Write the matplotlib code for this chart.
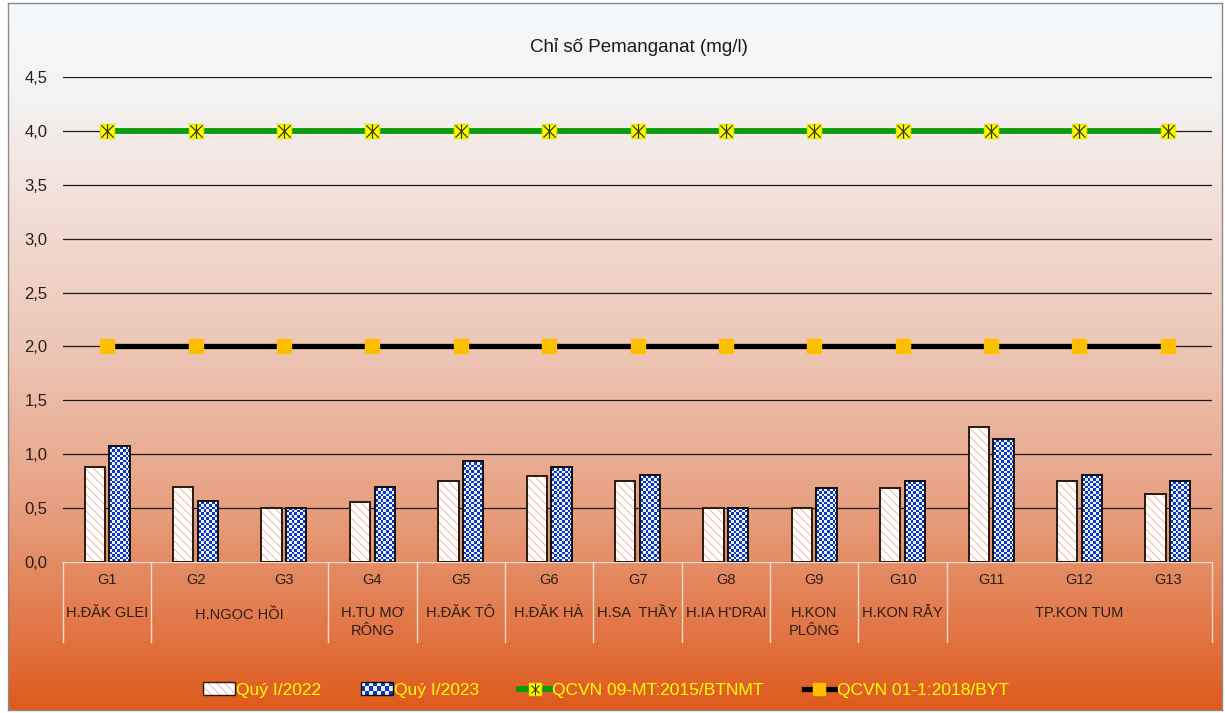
import numpy as np
import matplotlib.pyplot as plt
from matplotlib.colors import LinearSegmentedColormap, ListedColormap
from matplotlib.patches import Rectangle, Patch
from matplotlib.lines import Line2D
from matplotlib.legend_handler import HandlerBase

plt.rcParams['font.family'] = ['Liberation Sans', 'DejaVu Sans']
plt.rcParams['hatch.linewidth'] = 0.6

# sampling sites and districts
sites = ['G1', 'G2', 'G3', 'G4', 'G5', 'G6', 'G7', 'G8', 'G9', 'G10', 'G11', 'G12', 'G13']
districts = ['H.ĐĂK GLEI', 'H.NGỌC HỒI', 'H.TU MƠ\nRÔNG', 'H.ĐĂK TÔ', 'H.ĐĂK HÀ',
             'H.SA  THẦY', "H.IA H'DRAI", 'H.KON\nPLÔNG', 'H.KON RẪY', 'TP.KON TUM']
district_span = [1, 2, 1, 1, 1, 1, 1, 1, 1, 3]

# permanganate index, mg/l
q1_2022 = [0.88, 0.70, 0.50, 0.56, 0.75, 0.80, 0.75, 0.50, 0.50, 0.69, 1.25, 0.75, 0.63]
q1_2023 = [1.08, 0.57, 0.50, 0.70, 0.94, 0.88, 0.81, 0.50, 0.69, 0.75, 1.14, 0.81, 0.75]
qcvn_btnmt = [4.0, 4.0, 4.0, 4.0, 4.0, 4.0, 4.0, 4.0, 4.0, 4.0, 4.0, 4.0, 4.0]
qcvn_byt = [2.0, 2.0, 2.0, 2.0, 2.0, 2.0, 2.0, 2.0, 2.0, 2.0, 2.0, 2.0, 2.0]

yticks = [0.0, 0.5, 1.0, 1.5, 2.0, 2.5, 3.0, 3.5, 4.0, 4.5]

BLUE = '#0A37C8'
LIGHT = '#F0F4FF'
HATCH = '#E9AE98'
TEXT = '#2A1E18'
CREAM = '#F3DCC8'

W, H = 1225, 713
fig = plt.figure(figsize=(W / 100, H / 100), dpi=100)

# gradient background inside the chart frame
bg = fig.add_axes([8 / W, 3 / H, 1214 / W, 707 / H], zorder=-10)
grad = LinearSegmentedColormap.from_list('bg', [
    (0.0, '#F5F8FB'), (0.12, '#F4F4F5'), (0.3, '#F1DDD4'), (0.5, '#EDC4B4'),
    (0.7, '#E7A284'), (0.8, '#E48B63'), (0.9, '#E27343'), (1.0, '#DF5A1C')])
bg.imshow(np.linspace(0, 1, 256).reshape(-1, 1), cmap=grad, aspect='auto', extent=(0, 1, 0, 1))
bg.set_xticks([])
bg.set_yticks([])
for s in bg.spines.values():
    s.set_color('#8A8A8A')
    s.set_linewidth(1)

ax = fig.add_axes([63 / W, 1 - 562 / H, (1212 - 63) / W, (562 - 77) / H])
ax.set_facecolor('none')

x = np.arange(len(sites))
w = 0.23
off = 0.14

# Quý I/2022: white bars with light diagonal hatch
ax.bar(x - off, q1_2022, w, color='white', edgecolor=HATCH, hatch='\\\\\\\\', linewidth=0, zorder=2)
ax.bar(x - off, q1_2022, w, fill=False, edgecolor='#2A1A10', linewidth=1.4, zorder=3)

# Quý I/2023: checkerboard bars
bars23 = ax.bar(x + off, q1_2023, w, color=LIGHT, linewidth=0, zorder=2)
checker = np.indices((186, 442)).sum(axis=0) % 2
for b in bars23:
    im = ax.imshow(checker, cmap=ListedColormap([LIGHT, BLUE]), extent=(-0.5, 12.5, 0, 4.5),
                   aspect='auto', interpolation='nearest', origin='lower', zorder=2.5)
    im.set_clip_path(b)
ax.bar(x + off, q1_2023, w, fill=False, edgecolor='#101010', linewidth=1.4, zorder=3)

# regulation limits
ax.plot(x, qcvn_btnmt, color='#0A9A0A', lw=4.2, marker='s', ms=10.5, mfc='#FFFF00', mec='#E6E600', zorder=4)
ax.plot(x, qcvn_btnmt, ls='none', marker='x', ms=8, mec='#3A3A00', mew=0.9, zorder=5)
ax.plot(x, qcvn_btnmt, ls='none', marker='|', ms=10, mec='#3A3A00', mew=0.9, zorder=5)
ax.plot(x, qcvn_byt, color='black', lw=3.8, marker='s', ms=10, mfc='#FFC000', mec='#FFC000', zorder=4)

ax.set_xlim(-0.5, 12.5)
ax.set_ylim(0, 4.5)
ax.set_yticks(yticks, [f'{v:.1f}'.replace('.', ',') for v in yticks], fontsize=12, color=TEXT)
ax.set_xticks(x, sites, fontsize=10.5, color=TEXT)
ax.tick_params(axis='y', length=0, pad=11)
ax.tick_params(axis='x', length=0, pad=8)
ax.set_axisbelow(True)
ax.yaxis.grid(True, color='#1A1A1A', lw=0.9)
for side in ['left', 'top', 'right']:
    ax.spines[side].set_visible(False)
ax.spines['bottom'].set_color(CREAM)
ax.spines['bottom'].set_linewidth(1)

# district labels and separators under the site labels
xt = ax.get_xaxis_transform()
edge = -0.5
ax.plot([edge, edge], [0, -0.165], transform=xt, clip_on=False, color=CREAM, lw=1)
for name, span in zip(districts, district_span):
    centre = edge + span / 2
    ax.annotate(name, xy=(centre, 0), xycoords=xt, xytext=(0, -32), textcoords='offset points',
                ha='center', va='top', fontsize=10.5, color=TEXT, linespacing=1.3)
    edge += span
    ax.plot([edge, edge], [0, -0.165], transform=xt, clip_on=False, color=CREAM, lw=1)

fig.text(639 / W, 1 - 47 / H, 'Chỉ số Pemanganat (mg/l)', ha='center', va='center', fontsize=13.5, color='#1A1A1A')


class CheckerHandler(HandlerBase):
    def create_artists(self, legend, orig_handle, xdescent, ydescent, width, height, fontsize, trans):
        x0, y0 = -xdescent, -ydescent
        arts = [Rectangle((x0, y0), width, height, facecolor=LIGHT, edgecolor='none', transform=trans)]
        ncol, nrow = 8, 3
        cw, ch = width / ncol, height / nrow
        for i in range(nrow):
            for j in range(ncol):
                if (i + j) % 2:
                    arts.append(Rectangle((x0 + j * cw, y0 + i * ch), cw, ch, facecolor=BLUE,
                                          edgecolor='none', transform=trans))
        arts.append(Rectangle((x0, y0), width, height, fill=False, edgecolor='#101010', lw=1, transform=trans))
        return arts


h22 = (Patch(facecolor='white', edgecolor=HATCH, hatch='\\\\\\\\', linewidth=0),
       Patch(fill=False, edgecolor='#2A1A10', linewidth=1))
h23 = Patch()
h_btnmt = (Line2D([], [], color='#0A9A0A', lw=4.2, marker='s', ms=8, mfc='#FFFF00', mec='#E6E600'),
           Line2D([], [], ls='none', marker='x', ms=6, mec='#3A3A00', mew=0.8),
           Line2D([], [], ls='none', marker='|', ms=8, mec='#3A3A00', mew=0.8))
h_byt = Line2D([], [], color='black', lw=3.8, marker='s', ms=8, mfc='#FFC000', mec='#FFC000')

fig.legend([h22, h23, h_btnmt, h_byt],
           ['Quý I/2022', 'Quý I/2023', 'QCVN 09-MT:2015/BTNMT', 'QCVN 01-1:2018/BYT'],
           handler_map={h23: CheckerHandler()},
           loc='center', bbox_to_anchor=(606 / W, 1 - 690 / H), ncol=4, frameon=False,
           labelcolor='#FFFF00', fontsize=12.5, handlelength=1.8, handletextpad=0.1,
           columnspacing=2.3)

fig.savefig('out.png', dpi=100)
